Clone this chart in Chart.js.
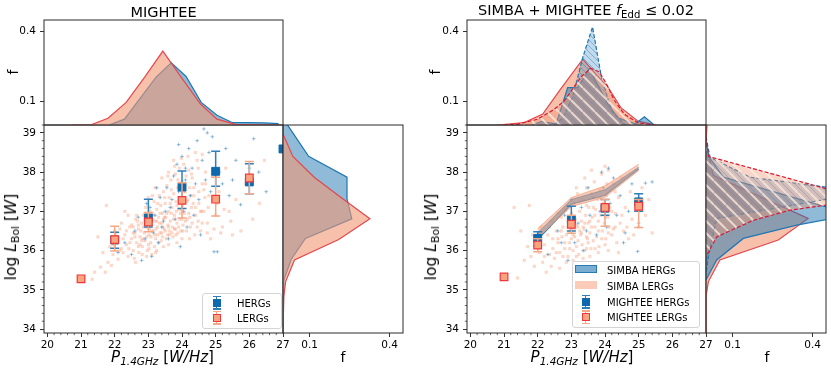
<!DOCTYPE html>
<html>
<head>
<meta charset="utf-8">
<script src="https://cdn.jsdelivr.net/npm/chart.js@4.4.0/dist/chart.umd.min.js"></script>
<style>
body { margin: 0; background: #fff; width: 831px; height: 373px; overflow: hidden; position: relative; font-family: "DejaVu Sans", sans-serif; }
canvas { position: absolute; }
.lbl { position: absolute; white-space: nowrap; color: #000; line-height: 1; }
.sb { font-size: 0.7em; vertical-align: -0.3em; }
.legend { position: absolute; border: 1px solid #d4d4d4; border-radius: 3px; background: rgba(255,255,255,0.85); box-sizing: border-box; }
.lg { position: absolute; }
.lt { position: absolute; font-size: 10px; white-space: nowrap; transform: translateY(-50%); }
</style>
</head>
<body>
<script>
// ---------- MIGHTEE (left) binned points ----------
const binX = [21, 22, 23, 24, 25, 26, 27];
const hergY = [null, 36.27, 36.83, 37.62, 38.02, 37.75, 38.59];
const hergLo = [null, 36.06, 36.6, 37.07, 37.64, 37.45, null];
const hergHi = [null, 36.47, 37.31, 38.03, 38.53, 38.21, null];
const lergY = [35.28, 36.28, 36.73, 37.28, 37.31, 37.85, null];
const lergLo = [null, 35.99, 36.48, 36.83, 36.88, 37.45, null];
const lergHi = [null, 36.62, 36.97, 37.73, 37.87, 38.27, null];

// ---------- SIMBA + MIGHTEE fEdd<=0.02 (right) binned points ----------
const binX2 = [21, 22, 23, 24, 25];
const hergY2 = [null, 36.31, 36.79, 37.08, 37.24];
const hergLo2 = [null, 36.12, 36.5, 36.9, 37.0];
const hergHi2 = [null, 36.48, 37.13, 37.3, 37.45];
const lergY2 = [35.33, 36.14, 36.67, 37.1, 37.13];
const lergLo2 = [null, 35.97, 36.44, 36.62, 36.59];
const lergHi2 = [null, 36.3, 36.9, 37.3, 37.3];

// SIMBA bands
const simX = [22, 23, 24, 25];
const simHergLo = [36.28, 37.18, 37.41, 38.08];
const simHergHi = [36.45, 37.3, 37.55, 38.12];
const simLergLo = [36.33, 37.12, 37.36, 38.04];
const simLergHi = [36.56, 37.35, 37.65, 38.2];

// ---------- individual sources, left panel ----------
const lergCloud = [
  [21.33,35.27],[21.58,35.58],[21.72,35.45],[21.8,35.7],[21.65,35.95],[21.9,35.62],[21.85,36.1],[21.75,37.15],
  [21.95,35.9],[22.05,36.25],[22.1,35.78],[22.15,36.55],[22.2,36.05],[22.25,35.95],[22.3,36.4],[22.35,36.15],
  [22.4,35.85],[22.45,36.6],[22.5,36.3],[22.55,36.0],[22.6,36.45],[22.62,36.8],[22.65,36.2],[22.7,36.55],
  [22.72,35.95],[22.75,36.35],[22.8,36.7],[22.82,36.1],[22.85,36.9],[22.88,36.45],[22.9,36.25],[22.92,37.1],
  [22.95,36.6],[22.97,36.0],[23.0,36.8],[23.02,36.4],[23.05,37.0],[23.07,36.2],[23.1,36.65],[23.12,36.95],
  [23.15,36.5],[23.17,37.25],[23.2,36.75],[23.22,36.3],[23.25,37.05],[23.27,36.6],[23.3,36.85],[23.32,37.4],
  [23.35,36.45],[23.37,37.15],[23.4,36.7],[23.42,36.95],[23.45,37.5],[23.47,36.55],[23.5,37.2],[23.52,36.85],
  [23.55,37.65],[23.57,36.4],[23.6,37.0],[23.62,37.35],[23.65,36.75],[23.67,37.8],[23.7,37.1],[23.72,36.6],
  [23.75,37.45],[23.77,36.9],[23.8,37.95],[23.82,37.25],[23.85,36.7],[23.87,37.6],[23.9,37.05],[23.92,38.1],
  [23.95,37.35],[23.97,36.5],[24.0,37.75],[24.02,37.15],[24.05,38.2],[24.07,36.95],[24.1,37.5],[24.12,37.9],
  [24.15,36.8],[24.18,37.3],[24.2,38.05],[24.22,37.6],[24.25,36.6],[24.28,37.1],[24.3,37.85],[24.35,37.4],
  [24.4,36.9],[24.45,38.3],[24.5,37.2],[24.55,36.5],[24.6,37.7],[24.65,37.0],[24.7,38.0],[24.75,36.7],
  [24.8,37.4],[24.85,36.3],[24.9,37.9],[25.0,36.9],[25.1,37.5],[25.2,36.6],[25.3,38.1],[25.4,37.0],
  [25.5,36.4],[25.6,37.3],[25.75,36.5],[25.9,37.7],[26.1,36.8],[26.3,37.2],[26.45,38.3],
  [22.55,36.6],[22.68,36.75],[22.78,36.5],[22.83,36.3],[22.93,36.85],[23.03,36.55],[23.08,36.35],[23.13,36.8],
  [23.18,36.1],[23.23,36.55],[23.28,36.4],[23.33,36.7],[23.38,36.25],[23.43,36.6],[23.48,36.85],[23.53,36.3],
  [23.58,36.65],[23.63,36.5],[23.68,36.95],[23.73,36.35],[23.78,36.55],[23.83,37.0],[23.88,36.45],[23.93,36.8],
  [23.98,37.05],[24.03,36.65],[24.08,37.3],[24.13,36.5],[24.23,36.85],[24.33,37.2],[24.38,36.4],[24.48,36.75],
  [24.58,37.0],[24.68,37.35],[24.78,37.1],[22.4,36.9],[22.5,36.65],[22.58,35.8],[22.7,36.1],[22.95,35.85],
  [23.1,35.9],[23.25,36.0],[23.45,36.1],[23.6,36.15],[23.85,36.2],[24.0,36.3],[21.5,36.35],[21.4,35.45],
  [22.0,36.5],[22.3,37.0],[23.0,37.35],[23.2,37.6],[23.4,37.85],[23.6,38.0],[23.75,38.3],[24.4,38.5],[24.6,38.45],
  [22.6,36.35],[22.7,36.65],[22.8,36.25],[22.85,36.6],[22.9,36.95],[22.95,36.35],[23.0,36.15],[23.05,36.7],
  [23.1,36.5],[23.15,36.9],[23.2,36.4],[23.25,36.75],[23.3,36.2],[23.35,36.95],[23.4,36.45],[23.45,36.8],
  [23.5,36.5],[23.55,36.95],[23.6,36.6],[23.65,37.2],[23.7,36.45],[23.75,36.8],[23.8,36.55],[23.85,37.15],
  [23.9,36.6],[23.95,36.95],[24.0,36.8],[24.05,37.5],[24.1,36.75],[24.15,37.25],[24.2,36.95],[24.25,37.4],
  [24.3,36.7],[24.35,37.6],[24.4,37.1],[24.45,36.6],[24.5,37.5],[24.55,37.0],[24.6,36.7],[24.65,37.55],
  [22.45,36.2],[22.55,36.45],[22.65,36.9],[22.75,36.15],[22.35,36.5],[22.25,36.3],[22.15,36.0],[22.05,36.45],
  [21.95,36.15],[22.2,36.7],[23.12,37.4],[23.28,37.2],[23.48,37.35],[23.68,37.55],[23.88,37.8],[24.08,37.65],
  [24.28,37.95],[24.48,38.1],[23.58,37.9],[23.78,38.15],[23.98,38.35],[24.18,38.4],[24.7,37.7],[24.9,37.3],
  [25.05,37.2],[25.25,37.05],[25.45,36.75],[25.15,36.45],[24.95,36.55],[24.75,36.45],[23.02,36.05],[23.22,35.95],
  [22.82,35.9],[22.62,35.7],[22.42,36.05],[23.42,36.35],[23.62,36.4],[23.82,36.4],[24.02,36.5],[24.22,36.3]
];
const hergCloud = [
  [22.1,35.95],[22.3,36.2],[22.5,35.9],[22.6,36.5],[22.7,36.85],[22.8,35.75],[22.9,36.3],[23.0,36.6],
  [23.05,37.1],[23.1,35.85],[23.2,36.9],[23.3,36.2],[23.35,37.35],[23.4,36.6],[23.5,37.0],[23.55,37.6],
  [23.6,36.3],[23.7,37.3],[23.75,37.9],[23.8,36.8],[23.85,38.2],[23.9,37.5],[23.95,36.1],[24.0,38.4],
  [24.05,37.0],[24.1,37.8],[24.15,36.6],[24.2,38.6],[24.25,37.4],[24.3,38.1],[24.35,36.9],[24.4,37.7],
  [24.45,38.8],[24.5,37.3],[24.55,36.4],[24.6,38.3],[24.65,39.1],[24.7,37.8],[24.8,38.5],[24.85,37.5],
  [24.9,38.9],[24.95,35.97],[25.05,35.97],[25.1,38.0],[25.2,37.7],[25.3,38.6],[25.4,37.4],[25.5,37.8],
  [25.74,37.17],[26.0,38.1],[26.13,38.85],[26.28,38.0],[26.5,37.5],[23.15,36.45],[23.45,36.75],[23.65,37.1],
  [23.25,37.6],[22.95,37.2],[24.1,38.1],[23.9,38.7],[24.75,39.0],[25.6,38.3]
];

// ---------- individual sources, right panel ----------
const lergCloud2 = [
  [21.4,35.3],[21.6,35.75],[21.7,36.1],[21.75,37.15],[21.8,35.85],[21.9,35.6],[21.95,36.3],[22.05,35.95],
  [22.1,36.6],[22.15,35.7],[22.2,36.15],[22.25,35.45],[22.3,36.4],[22.35,35.9],[22.4,36.75],[22.45,36.05],
  [22.5,35.8],[22.55,36.5],[22.6,36.2],[22.65,35.95],[22.7,36.85],[22.72,36.35],[22.75,36.6],[22.8,36.05],
  [22.82,37.05],[22.85,36.4],[22.9,35.85],[22.92,36.7],[22.95,36.2],[23.0,36.95],[23.02,36.5],[23.05,36.0],
  [23.08,37.2],[23.1,36.35],[23.12,36.8],[23.15,36.1],[23.18,37.45],[23.2,36.6],[23.22,35.9],[23.25,37.0],
  [23.28,36.4],[23.3,36.75],[23.32,36.15],[23.35,37.3],[23.38,36.55],[23.4,36.0],[23.42,36.9],[23.45,37.6],
  [23.48,36.3],[23.5,36.7],[23.52,37.1],[23.55,36.45],[23.58,36.05],[23.6,37.45],[23.62,36.85],[23.65,36.25],
  [23.68,37.75],[23.7,36.6],[23.72,37.05],[23.75,36.35],[23.78,37.3],[23.8,36.75],[23.82,36.1],[23.85,37.55],
  [23.88,36.9],[23.9,37.95],[23.92,36.5],[23.95,37.2],[23.98,36.7],[24.0,38.15],[24.02,36.3],[24.05,37.4],
  [24.08,36.85],[24.1,38.05],[24.12,36.6],[24.15,37.1],[24.2,36.4],[24.25,37.7],[24.3,36.95],[24.35,36.2],
  [24.4,37.35],[24.45,36.7],[24.5,37.85],[24.55,36.5],[24.6,37.1],[24.7,36.3],[24.75,37.5],[24.8,36.8],
  [24.9,37.25],[25.0,36.6],[25.1,37.6],[25.2,36.9],[25.3,37.3],[25.4,36.45],[22.6,36.95],[22.9,37.15],
  [23.15,37.6],[23.4,37.85],[23.6,38.05],[22.4,35.6],[22.65,35.55],[22.85,35.7],[23.05,35.75],[23.35,35.8],
  [23.55,35.85],[23.8,35.95],[24.1,36.0],[24.4,35.95],[23.45,36.35],[23.25,36.5],[23.05,36.4],[23.15,36.65],
  [23.35,36.6],[23.55,36.75],[22.95,36.5],[21.5,36.5],[21.3,37.1],
  [22.6,36.3],[22.7,36.5],[22.8,36.2],[22.9,36.6],[23.0,36.3],[23.1,36.55],[23.2,36.25],[23.3,36.45],
  [23.4,36.7],[23.5,36.2],[23.6,36.6],[23.7,36.9],[23.8,36.5],[23.9,36.3],[24.0,36.85],[24.1,36.45],
  [24.2,37.0],[24.3,36.6],[22.45,36.3],[22.55,35.95],[22.75,35.85],[22.95,36.05],[23.15,35.85],[23.45,36.05],
  [23.7,36.05],[24.0,36.15],[24.25,36.55],[24.5,36.9],[24.65,36.6],[24.85,36.4],[23.25,37.25],[23.45,37.15],
  [23.65,37.1],[23.85,37.35],[24.05,37.7],[24.3,37.5],[22.35,36.6],[22.2,35.85],[22.0,36.1],[21.85,36.4]
];
const hergCloud2 = [
  [22.0,36.3],[22.3,35.9],[22.6,36.5],[22.8,36.9],[22.9,35.75],[23.0,37.3],[23.1,36.2],[23.2,36.7],
  [23.3,37.1],[23.45,36.5],[23.55,36.9],[23.65,37.35],[23.75,36.4],[23.85,37.0],[23.95,37.6],[24.05,36.6],
  [24.15,37.2],[24.25,37.85],[24.35,36.9],[24.45,37.4],[24.55,36.2],[24.7,37.0],[24.8,37.7],[24.97,35.98],
  [25.0,36.7],[25.2,37.72],[25.4,37.75],[23.9,38.0],[24.1,38.1],[23.5,37.6],[22.7,36.2],[23.35,36.0],[24.6,36.45]
];

// ---------- marginal distributions, left panel ----------
const topLergX = [20.72, 21.28, 21.8, 22.34, 22.89, 23.43, 24.0, 24.55, 25.04, 25.59, 26.2, 26.87];
const topLergF = [0, 0, 0.029, 0.097, 0.205, 0.317, 0.2, 0.09, 0.025, 0.003, 0.001, 0];
const topHergX = [21.83, 22.29, 22.76, 23.23, 23.68, 24.12, 24.57, 25.04, 25.5, 25.97, 26.43, 26.87];
const topHergF = [0, 0.025, 0.115, 0.205, 0.267, 0.208, 0.097, 0.042, 0.01, 0.01, 0.009, 0.006];
const sideHergY = [39.46, 39.19, 38.4, 37.87, 37.32, 36.81, 36.31, 35.78, 35.25, 34.7, 33.9];
const sideHergF = [0.01, 0.018, 0.096, 0.24, 0.24, 0.258, 0.084, 0.031, 0.003, 0, 0];
const sideLergY = [39.5, 38.97, 38.4, 37.87, 37.34, 36.81, 36.28, 35.76, 35.21, 34.83, 34.3, 33.9];
const sideLergF = [0, 0, 0.037, 0.117, 0.22, 0.326, 0.209, 0.043, 0.01, 0.003, 0, 0];

// ---------- marginal distributions, right panel ----------
const top2MLergX = [20.8, 21.6, 22.15, 22.69, 23.34, 23.75, 24.08, 24.48, 24.97, 25.52];
const top2MLergF = [0, 0.01, 0.047, 0.156, 0.282, 0.215, 0.163, 0.073, 0.017, 0];
const top2MHergX = [21.85, 22.1, 22.55, 22.89, 23.19, 23.53, 23.83, 24.08, 24.4, 24.9, 25.17, 25.46];
const top2MHergF = [0, 0.015, 0.005, 0.16, 0.16, 0.24, 0.16, 0.09, 0.03, 0.005, 0.035, 0];
const top2SLergX = [21.0, 21.4, 22.0, 22.5, 22.8, 23.29, 23.58, 23.83, 24.03, 24.28, 24.57, 24.97, 25.46];
const top2SLergF = [0, 0.003, 0.025, 0.068, 0.105, 0.207, 0.243, 0.228, 0.18, 0.105, 0.047, 0.01, 0];
const top2SHergX = [22.5, 22.74, 23.04, 23.34, 23.63, 23.9, 24.2, 24.6];
const top2SHergF = [0, 0.03, 0.12, 0.29, 0.42, 0.2, 0.06, 0];
const side2MLergY = [39.2, 38.76, 37.92, 36.82, 36.27, 35.76, 35.21, 34.83, 33.9];
const side2MLergF = [0.004, 0, 0.027, 0.383, 0.271, 0.052, 0.009, 0, 0];
const side2MHergY = [38.76, 38.4, 37.87, 36.92, 36.65, 36.31, 35.76, 35.25];
const side2MHergF = [0, 0.01, 0.065, 0.55, 0.34, 0.14, 0.04, 0];
const side2SHergY = [38.9, 38.38, 37.87, 37.48, 36.82, 35.89, 35.4];
const side2SHergF = [0, 0.015, 0.165, 0.6, 0.04, 0.01, 0];
const side2SLergY = [38.9, 38.4, 37.3, 37.03, 36.77, 36.35, 35.84];
const side2SLergF = [0, 0.009, 0.6, 0.315, 0.177, 0.04, 0];

// axis ticks
const xTicks = [20, 21, 22, 23, 24, 25, 26, 27];
const yTicks = [34, 35, 36, 37, 38, 39];
const fTicks = [0.1, 0.4];

// ---------- styles ----------
const BLUE = '#1f77b4';
const BLUE_FILL = 'rgba(31,119,180,0.5)';
const RED_LINE = '#e5474c';
const DASH_RED = '#d81a34';
const SALMON_FILL = 'rgba(240,150,115,0.6)';
const PAD = 40;

Chart.defaults.font.family = "'DejaVu Sans', sans-serif";
Chart.defaults.color = '#000';

function hatch(bg, line, gap, lw) {
  const c = document.createElement('canvas');
  c.width = c.height = gap;
  const x = c.getContext('2d');
  x.fillStyle = bg;
  x.fillRect(0, 0, gap, gap);
  x.strokeStyle = line;
  x.lineWidth = lw;
  x.beginPath();
  for (let k = -1; k <= 1; k++) {
    x.moveTo(0, k * gap);
    x.lineTo(gap, gap + k * gap);
  }
  x.stroke();
  return x.createPattern(c, 'repeat');
}
const hatchBlue = hatch('rgba(31,119,180,0.28)', 'rgba(31,119,180,0.6)', 6, 0.7);
const hatchSalmon = hatch('rgba(240,150,115,0.4)', 'rgba(255,236,226,0.75)', 12, 2);

// frame around each axes
const framePlugin = {
  id: 'frame',
  afterDraw(chart) {
    const a = chart.chartArea, ctx = chart.ctx;
    ctx.save();
    ctx.strokeStyle = '#2a2a2a';
    ctx.lineWidth = 1;
    ctx.strokeRect(a.left, a.top, a.right - a.left, a.bottom - a.top);
    ctx.restore();
  }
};

// minor ticks
const minorPlugin = {
  id: 'minor',
  afterDraw(chart, args, opts) {
    if (!opts.on) return;
    const a = chart.chartArea, ctx = chart.ctx;
    const xs = chart.scales.x, ys = chart.scales.y;
    ctx.save();
    ctx.strokeStyle = '#000';
    ctx.lineWidth = 0.6;
    ctx.beginPath();
    for (let v = 20; v <= 27.001; v += 0.2) {
      if (Math.abs(v - Math.round(v)) < 0.01) continue;
      const p = xs.getPixelForValue(v);
      ctx.moveTo(p, a.bottom); ctx.lineTo(p, a.bottom + 2.2);
    }
    for (let v = 34; v <= 39.201; v += 0.2) {
      if (Math.abs(v - Math.round(v)) < 0.01) continue;
      const p = ys.getPixelForValue(v);
      ctx.moveTo(a.left, p); ctx.lineTo(a.left - 2.2, p);
    }
    ctx.stroke();
    ctx.restore();
  }
};

// error bars, drawn just before their markers
const errPlugin = {
  id: 'errbars',
  beforeDatasetDraw(chart, args) {
    const ds = chart.data.datasets[args.index];
    if (!ds.errColor) return;
    const xs = chart.scales.x, ys = chart.scales.y, ctx = chart.ctx, a = chart.chartArea;
    ctx.save();
    ctx.beginPath();
    ctx.rect(a.left, a.top, a.right - a.left, a.bottom - a.top);
    ctx.clip();
    ctx.strokeStyle = ds.errColor;
    ctx.lineWidth = 1.5;
    ds.data.forEach(p => {
      if (p.lo == null) return;
      const px = xs.getPixelForValue(p.x);
      const lo = ys.getPixelForValue(p.lo), hi = ys.getPixelForValue(p.hi);
      ctx.beginPath();
      ctx.moveTo(px, lo); ctx.lineTo(px, hi);
      ctx.moveTo(px - 4.5, lo); ctx.lineTo(px + 4.5, lo);
      ctx.moveTo(px - 4.5, hi); ctx.lineTo(px + 4.5, hi);
      ctx.stroke();
    });
    ctx.restore();
  }
};

function axis(min, max, ticks, showLabels) {
  return {
    type: 'linear', min: min, max: max,
    afterBuildTicks: s => { s.ticks = ticks.map(v => ({ value: v })); },
    ticks: { display: showLabels, callback: v => String(v), font: { size: 10.5 }, color: '#000', padding: 2, autoSkip: false, maxRotation: 0 },
    grid: { display: ticks.length > 0, drawOnChartArea: false, drawTicks: true, tickLength: 4, color: '#000', lineWidth: 0.8 },
    border: { display: false }
  };
}

function makeChart(l, t, w, h, cfg, minor) {
  const c = document.createElement('canvas');
  c.width = w + 2 * PAD;
  c.height = h + 2 * PAD;
  c.style.left = (l - PAD) + 'px';
  c.style.top = (t - PAD) + 'px';
  document.body.appendChild(c);
  const o = cfg.options;
  o.responsive = false;
  o.animation = false;
  o.devicePixelRatio = 1;
  o.events = [];
  o.layout = { padding: { left: 0, top: PAD, right: PAD, bottom: 0 } };
  o.scales.x.afterFit = s => { s.height = PAD; };
  o.scales.y.afterFit = s => { s.width = PAD; };
  o.scales.y.ticks.padding = 4;
  o.plugins = { legend: { display: false }, tooltip: { enabled: false }, minor: { on: !!minor } };
  cfg.plugins = [framePlugin, minorPlugin, errPlugin];
  return new Chart(c, cfg);
}

const pairs = (xs, ys) => xs.map((x, i) => ({ x: x, y: ys[i] }));
const binned = (xs, ys, lo, hi) => xs.map((x, i) => ({ x: x, y: ys[i], lo: lo[i], hi: hi[i] })).filter(p => p.y != null);
const cloud = arr => arr.map(p => ({ x: p[0], y: p[1] }));

function distLine(data, color, fill, dashed) {
  return {
    data: data, borderColor: color, borderWidth: 1.2, backgroundColor: fill,
    borderDash: dashed ? [4, 2] : [], fill: 'origin', pointRadius: 0, tension: 0
  };
}

function scatterSets(lergC, hergC, hergPts, lergPts, bands) {
  const sets = [
    { data: lergPts, pointStyle: 'rect', pointRadius: 5.4, pointBackgroundColor: '#f7a47f', pointBorderColor: '#f0383c', pointBorderWidth: 1.2, errColor: '#f4a886' },
    { data: hergPts, pointStyle: 'rect', pointRadius: 5.6, pointBackgroundColor: '#0d6aae', pointBorderColor: '#0d6aae', pointBorderWidth: 1, errColor: '#2f7fba' }
  ];
  if (bands) bands.forEach(b => sets.push(b));
  sets.push({ data: cloud(hergC), pointStyle: 'cross', pointRadius: 1.8, borderColor: 'rgba(31,119,180,0.45)', pointBorderWidth: 1 });
  sets.push({ data: cloud(lergC), pointStyle: 'rect', pointRadius: 1.8, pointBackgroundColor: 'rgba(245,145,105,0.32)', pointBorderColor: 'rgba(245,145,105,0.32)', pointBorderWidth: 0.5 });
  return sets;
}

// ================= LEFT PANEL =================
makeChart(44, 125, 239, 208, {
  type: 'scatter',
  data: { datasets: scatterSets(lergCloud, hergCloud, binned(binX, hergY, hergLo, hergHi), binned(binX, lergY, lergLo, lergHi)) },
  options: { scales: { x: axis(19.9, 27.0, xTicks, true), y: axis(33.9, 39.2, yTicks, true) } }
}, true);

makeChart(44, 20, 239, 105, {
  type: 'line',
  data: { datasets: [
    distLine(pairs(topLergX, topLergF), RED_LINE, SALMON_FILL, false),
    distLine(pairs(topHergX, topHergF), BLUE, BLUE_FILL, false)
  ] },
  options: { scales: { x: axis(19.9, 27.0, [], false), y: axis(0, 0.45, fTicks, true) } }
});

makeChart(283, 125, 120, 208, {
  type: 'line',
  data: { datasets: [
    distLine(sideLergY.map((y, i) => ({ x: sideLergF[i], y: y })), RED_LINE, SALMON_FILL, false),
    distLine(sideHergY.map((y, i) => ({ x: sideHergF[i], y: y })), BLUE, BLUE_FILL, false)
  ] },
  options: { indexAxis: 'y', scales: { x: axis(0, 0.45, fTicks, true), y: axis(33.9, 39.2, [], false) } }
});

// ================= RIGHT PANEL =================
const bandSets = [
  { data: pairs(simX, simLergHi), showLine: true, pointRadius: 0, borderColor: 'rgba(244,160,125,0.7)', borderWidth: 1, backgroundColor: 'rgba(244,160,125,0.55)', fill: '+1' },
  { data: pairs(simX, simLergLo), showLine: true, pointRadius: 0, borderColor: 'rgba(244,160,125,0.7)', borderWidth: 1, fill: false },
  { data: pairs(simX, simHergHi), showLine: true, pointRadius: 0, borderColor: 'rgba(31,119,180,0.8)', borderWidth: 1, backgroundColor: 'rgba(31,119,180,0.6)', fill: '+1' },
  { data: pairs(simX, simHergLo), showLine: true, pointRadius: 0, borderColor: 'rgba(31,119,180,0.9)', borderWidth: 1.2, fill: false }
];

makeChart(467, 125, 239, 208, {
  type: 'scatter',
  data: { datasets: scatterSets(lergCloud2, hergCloud2, binned(binX2, hergY2, hergLo2, hergHi2), binned(binX2, lergY2, lergLo2, lergHi2), bandSets) },
  options: { scales: { x: axis(19.9, 27.0, xTicks, true), y: axis(33.9, 39.2, yTicks, true) } }
}, true);

// top-most dataset listed first
makeChart(467, 20, 239, 105, {
  type: 'line',
  data: { datasets: [
    distLine(pairs(top2SLergX, top2SLergF), DASH_RED, hatchSalmon, true),
    distLine(pairs(top2SHergX, top2SHergF), BLUE, hatchBlue, true),
    distLine(pairs(top2MHergX, top2MHergF), BLUE, BLUE_FILL, false),
    distLine(pairs(top2MLergX, top2MLergF), RED_LINE, SALMON_FILL, false)
  ] },
  options: { scales: { x: axis(19.9, 27.0, [], false), y: axis(0, 0.45, fTicks, true) } }
});

makeChart(706, 125, 120, 208, {
  type: 'line',
  data: { datasets: [
    distLine(side2SLergY.map((y, i) => ({ x: side2SLergF[i], y: y })), DASH_RED, hatchSalmon, true),
    distLine(side2SHergY.map((y, i) => ({ x: side2SHergF[i], y: y })), BLUE, hatchBlue, true),
    distLine(side2MHergY.map((y, i) => ({ x: side2MHergF[i], y: y })), BLUE, BLUE_FILL, false),
    distLine(side2MLergY.map((y, i) => ({ x: side2MLergF[i], y: y })), RED_LINE, SALMON_FILL, false)
  ] },
  options: { indexAxis: 'y', scales: { x: axis(0, 0.45, fTicks, true), y: axis(33.9, 39.2, [], false) } }
});

// ================= TEXT =================
function label(html, cx, cy, size, rot) {
  const d = document.createElement('div');
  d.className = 'lbl';
  d.innerHTML = html;
  d.style.fontSize = size + 'px';
  d.style.left = cx + 'px';
  d.style.top = cy + 'px';
  d.style.transform = 'translate(-50%,-50%)' + (rot ? ' rotate(-90deg)' : '');
  document.body.appendChild(d);
}
const yLab = 'log <i>L</i><span class="sb">Bol</span> [<i>W</i>]';
const xLab = '<i>P</i><span class="sb"><i>1.4GHz</i></span> [<i>W/Hz</i>]';

label('MIGHTEE', 163.5, 12, 14.5);
label('SIMBA + MIGHTEE <i>f</i><span class="sb">Edd</span> ≤ 0.02', 586, 12, 14.5);
label('f', 13, 72, 14, true);
label('f', 435, 72, 14, true);
label(yLab, 13, 237, 15.5, true);
label(yLab, 433, 237, 15.5, true);
label(xLab, 162.5, 358, 15);
label(xLab, 582, 358, 15);
label('f', 343, 357, 14);
label('f', 767, 357, 14);

// ================= LEGENDS =================
function box(l, t, w, h) {
  const d = document.createElement('div');
  d.className = 'legend';
  Object.assign(d.style, { left: l + 'px', top: t + 'px', width: w + 'px', height: h + 'px' });
  document.body.appendChild(d);
}
function rect(l, t, w, h, bg, border) {
  const d = document.createElement('div');
  d.className = 'lg';
  Object.assign(d.style, { left: l + 'px', top: t + 'px', width: w + 'px', height: h + 'px', background: bg, boxSizing: 'border-box' });
  if (border) d.style.border = border;
  document.body.appendChild(d);
}
function errMarker(cx, cy, barColor, fill, edge) {
  rect(cx - 0.75, cy - 7, 1.5, 14, barColor);
  rect(cx - 4, cy - 7, 8, 1.5, barColor);
  rect(cx - 4, cy + 5.5, 8, 1.5, barColor);
  rect(cx - 4, cy - 4, 8, 8, fill, '1.2px solid ' + edge);
}
function text(s, l, cy) {
  const d = document.createElement('div');
  d.className = 'lt';
  d.textContent = s;
  d.style.left = l + 'px';
  d.style.top = cy + 'px';
  document.body.appendChild(d);
}

box(202, 293, 80, 36);
errMarker(216.7, 302.7, '#2f7fba', '#0d6aae', '#0d6aae');
text('HERGs', 237, 302.7);
errMarker(216.7, 317.7, '#f4a886', '#f7a47f', '#f0383c');
text('LERGs', 237, 317.7);

box(572, 261, 128, 67);
rect(575, 265, 22, 8, 'rgba(31,119,180,0.6)', '1px solid rgba(31,119,180,0.9)');
text('SIMBA HERGs', 607, 269.5);
rect(575, 281, 22, 8, 'rgba(244,160,125,0.55)');
text('SIMBA LERGs', 607, 285.5);
errMarker(585.5, 301.7, '#2f7fba', '#0d6aae', '#0d6aae');
text('MIGHTEE HERGs', 607, 301.7);
errMarker(585.5, 317.3, '#f4a886', '#f7a47f', '#f0383c');
text('MIGHTEE LERGs', 607, 317.3);
</script>
</body>
</html>
